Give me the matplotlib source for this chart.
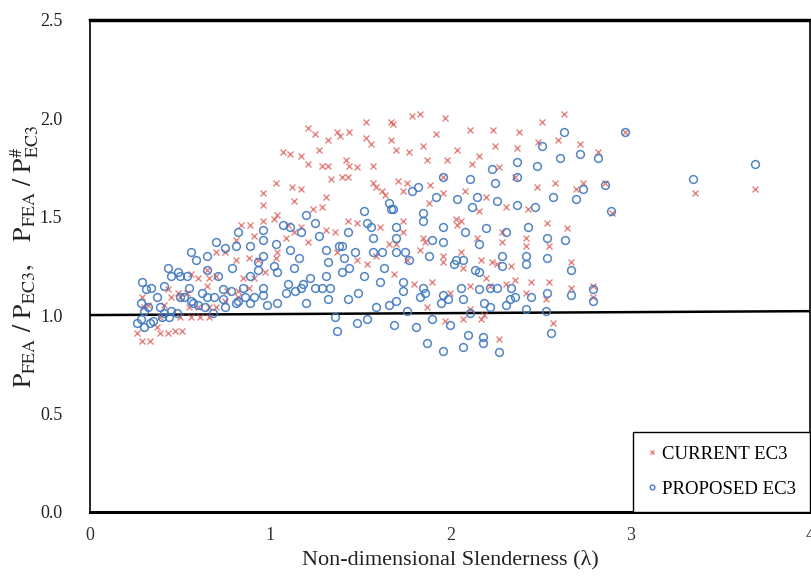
import numpy as np
import matplotlib.pyplot as plt

plt.rcParams['font.family'] = ['Liberation Serif', 'DejaVu Serif']
plt.rcParams['mathtext.fontset'] = 'stix'

# CURRENT EC3 (slenderness, ratio)
current_ec3 = [
    (0.96, 1.62), (0.96, 1.56), (0.96, 1.48), (0.84, 1.46), (0.89, 1.46), (0.91, 1.40),
    (0.81, 1.38), (0.70, 1.32), (0.75, 1.32), (0.81, 1.28), (0.88, 1.29), (0.93, 1.28),
    (0.97, 1.22), (0.65, 1.23), (0.56, 1.21), (0.60, 1.19), (0.66, 1.19), (0.70, 1.20),
    (0.85, 1.19), (0.91, 1.19), (0.88, 1.14), (0.65, 1.15), (0.43, 1.13), (0.49, 1.11),
    (0.54, 1.11), (0.76, 1.12), (0.82, 1.12), (0.29, 1.09), (0.32, 1.05), (0.30, 1.04),
    (0.45, 1.09), (0.50, 1.09), (0.41, 1.05), (0.55, 1.04), (0.60, 1.04), (0.66, 1.04),
    (0.70, 1.04), (0.75, 1.07), (0.82, 1.09), (0.50, 0.99), (0.56, 0.99), (0.61, 0.99),
    (0.66, 0.99), (0.39, 0.99), (0.26, 0.91), (0.29, 0.87), (0.33, 0.87), (0.39, 0.91),
    (0.43, 0.91), (0.47, 0.92), (0.51, 0.92), (0.37, 0.94),
    (1.79, 2.01), (1.83, 2.02), (1.53, 1.98), (1.67, 1.98), (1.68, 1.97), (1.92, 1.92),
    (1.21, 1.95), (1.25, 1.92), (1.37, 1.93), (1.39, 1.91), (1.44, 1.93), (1.32, 1.89),
    (1.53, 1.90), (1.56, 1.87), (1.67, 1.89), (1.85, 1.86), (1.70, 1.84), (1.77, 1.83),
    (1.07, 1.83), (1.11, 1.82), (1.17, 1.81), (1.27, 1.84), (1.87, 1.79), (1.21, 1.77),
    (1.29, 1.76), (1.32, 1.76), (1.42, 1.79), (1.44, 1.76), (1.48, 1.75), (1.57, 1.76),
    (1.34, 1.69), (1.40, 1.70), (1.43, 1.70), (1.57, 1.67), (1.59, 1.65), (1.62, 1.63),
    (1.64, 1.61), (1.71, 1.68), (1.76, 1.67), (1.74, 1.63), (1.89, 1.66), (1.03, 1.67),
    (1.12, 1.65), (1.17, 1.64), (1.13, 1.58), (1.31, 1.60), (1.24, 1.54), (1.29, 1.55),
    (1.02, 1.49), (1.04, 1.51), (1.17, 1.45), (1.43, 1.48), (1.48, 1.47), (1.61, 1.45),
    (1.74, 1.48), (1.88, 1.57),
    (1.10, 1.46), (1.13, 1.42), (1.09, 1.39), (1.21, 1.37), (1.31, 1.43), (1.36, 1.42),
    (1.74, 1.42), (1.85, 1.39), (1.86, 1.37), (1.83, 1.33), (1.66, 1.36), (1.70, 1.36),
    (1.04, 1.32), (1.03, 1.29), (1.37, 1.32), (1.48, 1.28), (1.54, 1.26), (1.59, 1.30),
    (1.76, 1.28), (1.69, 1.21), (1.80, 1.16), (1.90, 1.17), (1.87, 1.04),
    (1.97, 2.00), (2.63, 2.02), (2.11, 1.94), (2.24, 1.94), (2.38, 1.93), (2.51, 1.98),
    (2.04, 1.84), (2.25, 1.86), (2.37, 1.85), (2.49, 1.88), (2.60, 1.89), (2.72, 1.87),
    (2.82, 1.83), (1.98, 1.79), (2.16, 1.81), (2.12, 1.77), (2.27, 1.75), (1.96, 1.70),
    (2.36, 1.70), (2.48, 1.65), (2.58, 1.67), (2.70, 1.64), (2.74, 1.67), (2.86, 1.67),
    (2.08, 1.63), (1.96, 1.62), (2.20, 1.60), (2.31, 1.55), (2.43, 1.54), (2.16, 1.53),
    (2.03, 1.49), (2.06, 1.48), (2.04, 1.46), (2.54, 1.47), (2.65, 1.44),
    (2.15, 1.39), (2.29, 1.42), (2.29, 1.37), (2.42, 1.39), (2.42, 1.35), (2.55, 1.35),
    (2.06, 1.32), (1.96, 1.30), (1.96, 1.27), (2.07, 1.24), (2.17, 1.28), (2.23, 1.27),
    (2.26, 1.26), (2.34, 1.25), (2.67, 1.27), (2.20, 1.19), (2.11, 1.15), (2.22, 1.15),
    (2.31, 1.16), (2.36, 1.18), (2.45, 1.17), (2.55, 1.17), (2.67, 1.14), (2.79, 1.15),
    (2.00, 1.11), (2.42, 1.11), (2.53, 1.08), (2.79, 1.09), (2.11, 1.03), (1.97, 0.97),
    (2.07, 0.98), (2.17, 0.98), (2.19, 1.00), (2.57, 0.96), (2.27, 0.88),
    (2.97, 1.93), (2.90, 1.52), (3.36, 1.62), (3.69, 1.64),
]

# PROPOSED EC3 (slenderness, ratio)
proposed_ec3 = [
    (0.96, 1.43), (0.96, 1.38), (0.82, 1.42), (0.89, 1.35), (0.70, 1.37), (0.75, 1.34),
    (0.81, 1.35), (0.56, 1.32), (0.59, 1.28), (0.65, 1.30), (0.79, 1.24), (0.93, 1.27),
    (0.96, 1.30), (0.43, 1.24), (0.49, 1.22), (0.54, 1.20), (0.45, 1.20), (0.50, 1.20),
    (0.65, 1.23), (0.71, 1.20), (0.89, 1.20), (0.93, 1.23), (0.29, 1.17), (0.31, 1.13),
    (0.34, 1.14), (0.37, 1.09), (0.41, 1.15), (0.55, 1.14), (0.50, 1.09), (0.52, 1.09),
    (0.56, 1.07), (0.62, 1.11), (0.65, 1.09), (0.69, 1.09), (0.74, 1.13), (0.74, 1.08),
    (0.78, 1.12), (0.81, 1.06), (0.82, 1.07), (0.85, 1.14), (0.86, 1.09), (0.91, 1.09),
    (0.89, 1.06), (0.96, 1.14), (0.96, 1.10), (0.98, 1.05), (0.28, 1.06), (0.32, 1.04),
    (0.30, 1.02), (0.39, 1.04), (0.45, 1.02), (0.48, 1.01), (0.41, 1.01), (0.57, 1.06),
    (0.60, 1.05), (0.64, 1.04), (0.68, 1.01), (0.75, 1.04), (0.26, 0.96), (0.28, 0.98),
    (0.30, 0.94), (0.33, 0.96), (0.35, 0.97), (0.40, 0.99), (0.44, 0.99),
    (1.20, 1.51), (1.25, 1.47), (1.07, 1.46), (1.11, 1.45), (1.52, 1.53), (1.54, 1.47),
    (1.66, 1.57), (1.67, 1.54), (1.68, 1.54), (1.79, 1.63), (1.82, 1.65), (1.92, 1.60),
    (1.85, 1.52), (1.85, 1.48),
    (1.17, 1.42), (1.27, 1.40), (1.43, 1.42), (1.56, 1.45), (1.57, 1.39), (1.70, 1.45),
    (1.70, 1.39), (1.03, 1.36), (1.11, 1.33), (1.16, 1.29), (1.31, 1.33), (1.32, 1.27),
    (1.38, 1.35), (1.40, 1.35), (1.41, 1.29), (1.47, 1.32), (1.44, 1.24), (1.57, 1.32),
    (1.62, 1.32), (1.70, 1.32), (1.75, 1.32), (1.77, 1.28), (1.88, 1.30), (1.02, 1.25),
    (1.04, 1.22), (1.13, 1.24), (1.40, 1.22), (1.52, 1.20), (1.63, 1.24), (1.61, 1.17),
    (1.74, 1.17), (1.10, 1.16), (1.09, 1.11), (1.14, 1.12), (1.17, 1.14), (1.18, 1.16),
    (1.22, 1.19), (1.25, 1.14), (1.29, 1.14), (1.31, 1.20), (1.33, 1.14), (1.04, 1.06),
    (1.20, 1.06), (1.32, 1.08), (1.43, 1.08), (1.49, 1.11), (1.59, 1.04), (1.66, 1.05),
    (1.70, 1.07), (1.76, 1.02), (1.74, 1.12), (1.83, 1.09), (1.86, 1.11), (1.85, 1.14),
    (1.36, 0.99), (1.37, 0.92), (1.48, 0.96), (1.54, 0.98), (1.69, 0.95), (1.81, 0.94),
    (1.87, 0.86), (1.90, 0.98),
    (2.63, 1.93), (2.51, 1.86), (2.72, 1.82), (2.82, 1.80), (2.61, 1.80), (2.37, 1.78),
    (2.48, 1.76), (2.23, 1.74), (2.37, 1.70), (2.25, 1.67), (1.96, 1.70), (2.11, 1.69),
    (2.15, 1.60), (2.04, 1.59), (2.12, 1.55), (2.26, 1.58), (2.37, 1.56), (2.47, 1.55),
    (2.57, 1.60), (2.70, 1.59), (2.74, 1.64), (2.86, 1.66), (2.89, 1.53), (1.96, 1.45),
    (2.20, 1.44), (2.43, 1.45),
    (2.08, 1.42), (2.31, 1.42), (1.90, 1.38), (1.96, 1.37), (2.16, 1.36), (2.54, 1.39),
    (2.64, 1.38), (2.03, 1.28), (2.07, 1.28), (2.02, 1.26), (2.29, 1.30), (2.29, 1.25),
    (2.42, 1.30), (2.42, 1.26), (2.54, 1.29), (2.67, 1.23), (2.14, 1.23), (2.16, 1.22),
    (2.06, 1.14), (2.16, 1.13), (2.22, 1.14), (2.26, 1.14), (2.34, 1.14), (2.45, 1.09),
    (2.54, 1.11), (2.67, 1.10), (2.79, 1.13), (2.79, 1.07), (1.96, 1.10), (1.99, 1.08),
    (1.95, 1.06), (2.07, 1.08), (2.19, 1.06), (2.22, 1.04), (2.31, 1.05), (2.33, 1.08),
    (2.36, 1.09), (2.42, 1.03), (2.53, 1.02), (2.11, 1.01), (2.00, 0.95), (2.10, 0.90),
    (2.18, 0.89), (2.18, 0.86), (2.07, 0.84), (2.56, 0.91), (1.96, 0.82), (2.27, 0.81),
    (2.97, 1.93), (3.35, 1.69), (3.69, 1.77),
]

# reference line (ratio = 1)
line_x = [0, 4]
line_y = [1.0, 1.02]

xticks = [0, 1, 2, 3, 4]
yticks = [0.0, 0.5, 1.0, 1.5, 2.0, 2.5]

cur = np.array(current_ec3)
pro = np.array(proposed_ec3)

fig = plt.figure(figsize=(8.12, 5.85), dpi=100)
ax = fig.add_axes([0.111, 0.125, 0.887, 0.841])

ax.plot(line_x, line_y, color='black', lw=1.8, zorder=1)
ax.plot(cur[:, 0], cur[:, 1], 'x', color='#dc5a55', ms=4.8, mew=1.0, alpha=0.75,
        label='CURRENT EC3')
ax.plot(pro[:, 0], pro[:, 1], 'o', mfc='none', mec='#3f78c0', ms=5.6, mew=1.1,
        alpha=0.9, label='PROPOSED EC3')

ax.set_xlim(0, 4)
ax.set_ylim(0, 2.5)
ax.set_xticks(xticks)
ax.set_xticklabels([str(t) for t in xticks])
ax.set_yticks(yticks)
ax.set_yticklabels(['%.1f' % t for t in yticks])
ax.tick_params(axis='y', length=0, pad=20, labelsize=13, labelcolor='#222222')
ax.tick_params(axis='x', length=0, pad=11, labelsize=13, labelcolor='#333333')

ax.spines['top'].set_linewidth(2.5)
ax.spines['bottom'].set_linewidth(2.2)
ax.spines['left'].set_linewidth(1.2)
ax.spines['right'].set_linewidth(1.2)

ax.set_xlabel('Non-dimensional Slenderness (λ)', fontsize=16, color='#222222', labelpad=4)
ax.set_ylabel(r'$\mathrm{P_{FEA}\ /\ P_{EC3},\quad P_{FEA}\ /\ P^{\#}_{EC3}}$',
              fontsize=18.5, color='#222222')
ax.yaxis.set_label_coords(-0.068, 0.52)

leg = ax.legend(loc='lower right', fontsize=13.5, frameon=True, fancybox=False,
                edgecolor='black', markerscale=0.6, handlelength=0.5,
                handletextpad=0.3, borderpad=0.75, labelspacing=0.95,
                borderaxespad=0, framealpha=1)
leg.get_frame().set_linewidth(1.0)

plt.savefig('out.png', dpi=100)
